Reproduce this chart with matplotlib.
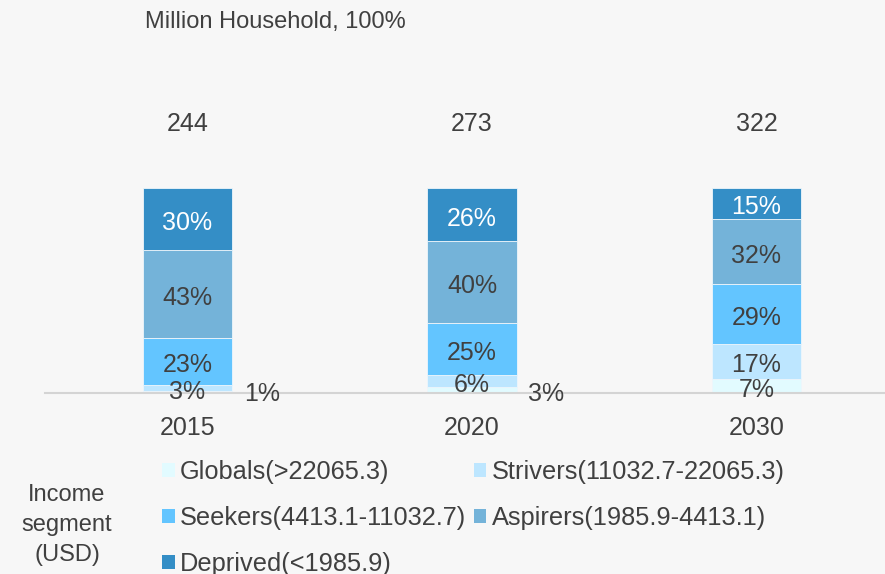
import matplotlib.pyplot as plt
from matplotlib.patches import Patch

plt.rcParams['font.family'] = ['Liberation Sans', 'DejaVu Sans']

years = ['2015', '2020', '2030']
totals = [244, 273, 322]
segments = ['Globals(>22065.3)', 'Strivers(11032.7-22065.3)', 'Seekers(4413.1-11032.7)',
            'Aspirers(1985.9-4413.1)', 'Deprived(<1985.9)']
globals_ = [1, 3, 7]
strivers = [3, 6, 17]
seekers = [23, 25, 29]
aspirers = [43, 40, 32]
deprived = [30, 26, 15]

colors = ['#e2fbff', '#bde6ff', '#63c5ff', '#74b3d9', '#348ec6']
text_colors = ['#404040', '#404040', '#404040', '#404040', 'white']
bg = '#f7f7f7'
fs = 18
dy = -2  # nudge labels down a little so the digits sit visually centred

fig = plt.figure(figsize=(8.85, 5.74), dpi=100, facecolor=bg)
ax = fig.add_axes([45 / 885, (574 - 393) / 574, 840 / 885, 393 / 574])
ax.set_facecolor(bg)

x = list(range(len(years)))
width = 0.313
series = [globals_, strivers, seekers, aspirers, deprived]
bottoms = [0] * len(years)
for i, vals in enumerate(series):
    ax.bar(x, vals, width, bottom=bottoms, color=colors[i], edgecolor='#eef6fb', linewidth=0.6)
    for j, v in enumerate(vals):
        if i == 0 and v < 5:
            # small slice: label to the right of the bar
            ax.text(x[j] + width / 2 + 0.105, -0.5, f'{v}%', ha='center', va='center',
                    fontsize=fs, color='#404040')
        else:
            ax.text(x[j], bottoms[j] + v / 2 + dy, f'{v}%', ha='center', va='center',
                    fontsize=fs, color=text_colors[i])
    bottoms = [b + v for b, v in zip(bottoms, vals)]

for j, t in enumerate(totals):
    ax.text(x[j], 131, str(t), ha='center', va='center', fontsize=fs, color='#404040')

ax.set_xlim(-0.5009, 2.4517)
ax.set_ylim(0, 100 * 393 / 205)
ax.set_xticks(x, years)
ax.tick_params(axis='x', length=0, pad=16.5, labelsize=fs, labelcolor='#404040')
ax.set_yticks([])
for s in ['top', 'right', 'left']:
    ax.spines[s].set_visible(False)
ax.spines['bottom'].set_color('#d4d4d4')
ax.spines['bottom'].set_linewidth(1.5)

fig.text(145 / 885, 1 - 22 / 574, 'Million Household, 100%', ha='left', va='center',
         fontsize=17, color='#404040')

fig.text(67 / 885, 1 - 525 / 574, 'Income\nsegment\n(USD)', ha='center', va='center',
         fontsize=17, color='#404040', linespacing=1.45)

handles = [Patch(facecolor=c, edgecolor='none') for c in colors]
order = [0, 2, 4, 1, 3]
fig.legend([handles[k] for k in order], [segments[k] for k in order],
           ncol=2, loc='upper left', bbox_to_anchor=(162 / 885, 1 - 460 / 574),
           frameon=False, fontsize=18.3, labelcolor='#404040',
           handlelength=0.5, handleheight=0.5, handletextpad=0.2,
           columnspacing=0.3, labelspacing=0.87, borderpad=0, borderaxespad=0)

fig.savefig('out.png', dpi=100, facecolor=bg)
